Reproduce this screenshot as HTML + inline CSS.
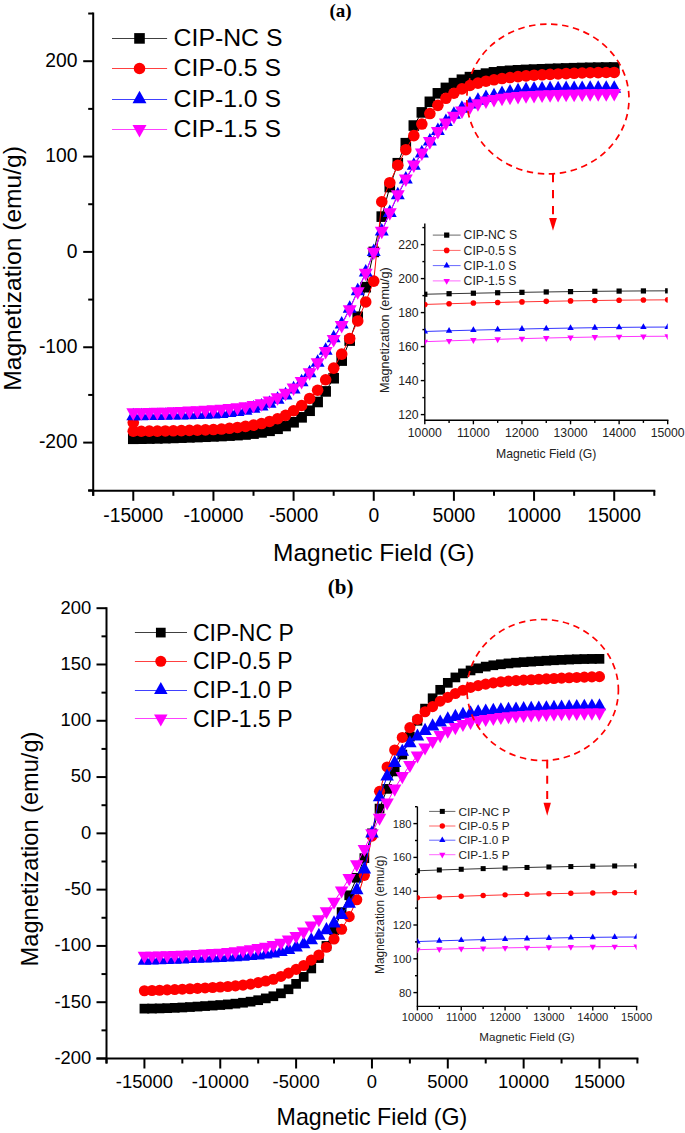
<!DOCTYPE html><html><head><meta charset="utf-8"><style>html,body{margin:0;padding:0;background:#fff;}svg{display:block;}</style></head><body>
<svg width="685" height="1133" viewBox="0 0 685 1133">
<rect width="685" height="1133" fill="#fff"/>
<text x="340.5" y="16.8" font-family='"Liberation Serif", serif' font-weight="bold" font-size="19" text-anchor="middle">(a)</text>
<text x="340.7" y="593.8" font-family='"Liberation Serif", serif' font-weight="bold" font-size="21" text-anchor="middle">(b)</text>
<g stroke="#000" stroke-width="2" fill="none">
<path d="M93.2 12.5 V495.8"/>
<path d="M88.2 490.8 H655.3"/>
<path d="M88.2 13.53 H93.2"/>
<path d="M83.2 61.20 H93.2"/>
<path d="M88.2 108.88 H93.2"/>
<path d="M83.2 156.55 H93.2"/>
<path d="M88.2 204.23 H93.2"/>
<path d="M83.2 251.90 H93.2"/>
<path d="M88.2 299.58 H93.2"/>
<path d="M83.2 347.25 H93.2"/>
<path d="M88.2 394.93 H93.2"/>
<path d="M83.2 442.60 H93.2"/>
<path d="M88.2 490.28 H93.2"/>
<path d="M93.20 490.8 V495.8"/>
<path d="M133.28 490.8 V500.8"/>
<path d="M173.36 490.8 V495.8"/>
<path d="M213.44 490.8 V500.8"/>
<path d="M253.51 490.8 V495.8"/>
<path d="M293.59 490.8 V500.8"/>
<path d="M333.67 490.8 V495.8"/>
<path d="M373.75 490.8 V500.8"/>
<path d="M413.83 490.8 V495.8"/>
<path d="M453.91 490.8 V500.8"/>
<path d="M493.99 490.8 V495.8"/>
<path d="M534.06 490.8 V500.8"/>
<path d="M574.14 490.8 V495.8"/>
<path d="M614.22 490.8 V500.8"/>
<path d="M654.30 490.8 V495.8"/>
</g>
<g font-family='"Liberation Sans", sans-serif' fill="#000">
<text x="77.50" y="67.00" font-size="19.3" text-anchor="end" >200</text>
<text x="77.50" y="162.35" font-size="19.3" text-anchor="end" >100</text>
<text x="77.50" y="257.70" font-size="19.3" text-anchor="end" >0</text>
<text x="77.50" y="353.05" font-size="19.3" text-anchor="end" >-100</text>
<text x="77.50" y="448.40" font-size="19.3" text-anchor="end" >-200</text>
<text x="133.28" y="522.30" font-size="19.3" text-anchor="middle" >-15000</text>
<text x="213.44" y="522.30" font-size="19.3" text-anchor="middle" >-10000</text>
<text x="293.59" y="522.30" font-size="19.3" text-anchor="middle" >-5000</text>
<text x="373.75" y="522.30" font-size="19.3" text-anchor="middle" >0</text>
<text x="453.91" y="522.30" font-size="19.3" text-anchor="middle" >5000</text>
<text x="534.06" y="522.30" font-size="19.3" text-anchor="middle" >10000</text>
<text x="614.22" y="522.30" font-size="19.3" text-anchor="middle" >15000</text>
<text x="373.75" y="560.90" font-size="24.5" text-anchor="middle" >Magnetic Field (G)</text>
<text x="0" y="0" font-size="24.6" text-anchor="middle" transform="translate(21.0 268.4) rotate(-90)">Magnetization (emu/g)</text>
</g>
<polyline points="133.28,438.79 141.29,438.69 149.31,438.56 157.33,438.38 165.34,438.17 173.36,437.93 181.37,437.66 189.39,437.36 197.40,437.06 205.42,436.73 213.44,436.40 221.45,436.04 229.47,435.62 237.48,435.12 245.50,434.50 253.51,433.61 261.53,432.40 269.55,430.81 277.56,428.77 285.58,426.01 293.59,422.29 301.61,417.33 309.62,410.75 317.64,401.98 325.66,391.40 333.67,378.24 341.69,360.60 349.70,340.58 357.72,316.74 365.73,287.18 373.75,251.90 381.77,216.62 389.78,187.06 397.80,163.22 405.81,143.20 413.83,125.56 421.84,112.40 429.86,101.82 437.88,93.33 445.89,87.90 453.91,83.13 461.92,79.70 469.94,77.12 477.95,75.16 485.97,73.60 493.99,72.33 502.00,71.40 510.02,70.80 518.03,70.31 526.05,69.92 534.06,69.59 542.08,69.29 550.10,69.00 558.11,68.72 566.13,68.45 574.14,68.21 582.16,67.99 590.17,67.81 598.19,67.66 606.21,67.55 614.22,67.49" fill="none" stroke="#000" stroke-width="1"/>
<rect x="127.98" y="433.49" width="10.60" height="10.60" fill="#000"/>
<rect x="135.99" y="433.39" width="10.60" height="10.60" fill="#000"/>
<rect x="144.01" y="433.26" width="10.60" height="10.60" fill="#000"/>
<rect x="152.03" y="433.08" width="10.60" height="10.60" fill="#000"/>
<rect x="160.04" y="432.87" width="10.60" height="10.60" fill="#000"/>
<rect x="168.06" y="432.63" width="10.60" height="10.60" fill="#000"/>
<rect x="176.07" y="432.36" width="10.60" height="10.60" fill="#000"/>
<rect x="184.09" y="432.06" width="10.60" height="10.60" fill="#000"/>
<rect x="192.10" y="431.76" width="10.60" height="10.60" fill="#000"/>
<rect x="200.12" y="431.43" width="10.60" height="10.60" fill="#000"/>
<rect x="208.14" y="431.10" width="10.60" height="10.60" fill="#000"/>
<rect x="216.15" y="430.74" width="10.60" height="10.60" fill="#000"/>
<rect x="224.17" y="430.32" width="10.60" height="10.60" fill="#000"/>
<rect x="232.18" y="429.82" width="10.60" height="10.60" fill="#000"/>
<rect x="240.20" y="429.20" width="10.60" height="10.60" fill="#000"/>
<rect x="248.21" y="428.31" width="10.60" height="10.60" fill="#000"/>
<rect x="256.23" y="427.10" width="10.60" height="10.60" fill="#000"/>
<rect x="264.25" y="425.51" width="10.60" height="10.60" fill="#000"/>
<rect x="272.26" y="423.47" width="10.60" height="10.60" fill="#000"/>
<rect x="280.28" y="420.71" width="10.60" height="10.60" fill="#000"/>
<rect x="288.29" y="416.99" width="10.60" height="10.60" fill="#000"/>
<rect x="296.31" y="412.03" width="10.60" height="10.60" fill="#000"/>
<rect x="304.32" y="405.45" width="10.60" height="10.60" fill="#000"/>
<rect x="312.34" y="396.68" width="10.60" height="10.60" fill="#000"/>
<rect x="320.36" y="386.10" width="10.60" height="10.60" fill="#000"/>
<rect x="328.37" y="372.94" width="10.60" height="10.60" fill="#000"/>
<rect x="336.39" y="355.30" width="10.60" height="10.60" fill="#000"/>
<rect x="344.40" y="335.28" width="10.60" height="10.60" fill="#000"/>
<rect x="352.42" y="311.44" width="10.60" height="10.60" fill="#000"/>
<rect x="360.43" y="281.88" width="10.60" height="10.60" fill="#000"/>
<rect x="368.45" y="246.60" width="10.60" height="10.60" fill="#000"/>
<rect x="376.47" y="211.32" width="10.60" height="10.60" fill="#000"/>
<rect x="384.48" y="181.76" width="10.60" height="10.60" fill="#000"/>
<rect x="392.50" y="157.92" width="10.60" height="10.60" fill="#000"/>
<rect x="400.51" y="137.90" width="10.60" height="10.60" fill="#000"/>
<rect x="408.53" y="120.26" width="10.60" height="10.60" fill="#000"/>
<rect x="416.54" y="107.10" width="10.60" height="10.60" fill="#000"/>
<rect x="424.56" y="96.52" width="10.60" height="10.60" fill="#000"/>
<rect x="432.58" y="88.03" width="10.60" height="10.60" fill="#000"/>
<rect x="440.59" y="82.60" width="10.60" height="10.60" fill="#000"/>
<rect x="448.61" y="77.83" width="10.60" height="10.60" fill="#000"/>
<rect x="456.62" y="74.40" width="10.60" height="10.60" fill="#000"/>
<rect x="464.64" y="71.82" width="10.60" height="10.60" fill="#000"/>
<rect x="472.65" y="69.86" width="10.60" height="10.60" fill="#000"/>
<rect x="480.67" y="68.30" width="10.60" height="10.60" fill="#000"/>
<rect x="488.69" y="67.03" width="10.60" height="10.60" fill="#000"/>
<rect x="496.70" y="66.10" width="10.60" height="10.60" fill="#000"/>
<rect x="504.72" y="65.50" width="10.60" height="10.60" fill="#000"/>
<rect x="512.73" y="65.01" width="10.60" height="10.60" fill="#000"/>
<rect x="520.75" y="64.62" width="10.60" height="10.60" fill="#000"/>
<rect x="528.76" y="64.29" width="10.60" height="10.60" fill="#000"/>
<rect x="536.78" y="63.99" width="10.60" height="10.60" fill="#000"/>
<rect x="544.80" y="63.70" width="10.60" height="10.60" fill="#000"/>
<rect x="552.81" y="63.42" width="10.60" height="10.60" fill="#000"/>
<rect x="560.83" y="63.15" width="10.60" height="10.60" fill="#000"/>
<rect x="568.84" y="62.91" width="10.60" height="10.60" fill="#000"/>
<rect x="576.86" y="62.69" width="10.60" height="10.60" fill="#000"/>
<rect x="584.87" y="62.51" width="10.60" height="10.60" fill="#000"/>
<rect x="592.89" y="62.36" width="10.60" height="10.60" fill="#000"/>
<rect x="600.91" y="62.25" width="10.60" height="10.60" fill="#000"/>
<rect x="608.92" y="62.19" width="10.60" height="10.60" fill="#000"/>
<polyline points="133.28,431.25 141.29,431.23 149.31,431.17 157.33,431.08 165.34,430.94 173.36,430.78 181.37,430.58 189.39,430.36 197.40,430.11 205.42,429.83 213.44,429.54 221.45,429.03 229.47,428.30 237.48,427.43 245.50,426.39 253.51,425.15 261.53,423.53 269.55,421.43 277.56,418.76 285.58,415.33 293.59,410.75 301.61,405.51 309.62,398.45 317.64,390.25 325.66,379.76 333.67,368.13 341.69,354.12 349.70,338.57 357.72,320.93 365.73,301.96 373.75,281.08 381.77,201.75 389.78,182.68 397.80,165.23 405.81,149.68 413.83,135.67 421.84,124.04 429.86,113.55 437.88,105.35 445.89,98.29 453.91,93.24 461.92,88.85 469.94,85.51 477.95,83.13 485.97,81.22 493.99,79.79 502.00,78.55 510.02,77.53 518.03,76.65 526.05,75.84 534.06,75.22 542.08,74.78 550.10,74.36 558.11,73.97 566.13,73.61 574.14,73.28 582.16,73.00 590.17,72.77 598.19,72.60 606.21,72.49 614.22,72.45" fill="none" stroke="#ff0000" stroke-width="1"/>
<circle cx="133.28" cy="431.25" r="5.80" fill="#ff0000"/>
<circle cx="141.29" cy="431.23" r="5.80" fill="#ff0000"/>
<circle cx="149.31" cy="431.17" r="5.80" fill="#ff0000"/>
<circle cx="157.33" cy="431.08" r="5.80" fill="#ff0000"/>
<circle cx="165.34" cy="430.94" r="5.80" fill="#ff0000"/>
<circle cx="173.36" cy="430.78" r="5.80" fill="#ff0000"/>
<circle cx="181.37" cy="430.58" r="5.80" fill="#ff0000"/>
<circle cx="189.39" cy="430.36" r="5.80" fill="#ff0000"/>
<circle cx="197.40" cy="430.11" r="5.80" fill="#ff0000"/>
<circle cx="205.42" cy="429.83" r="5.80" fill="#ff0000"/>
<circle cx="213.44" cy="429.54" r="5.80" fill="#ff0000"/>
<circle cx="221.45" cy="429.03" r="5.80" fill="#ff0000"/>
<circle cx="229.47" cy="428.30" r="5.80" fill="#ff0000"/>
<circle cx="237.48" cy="427.43" r="5.80" fill="#ff0000"/>
<circle cx="245.50" cy="426.39" r="5.80" fill="#ff0000"/>
<circle cx="253.51" cy="425.15" r="5.80" fill="#ff0000"/>
<circle cx="261.53" cy="423.53" r="5.80" fill="#ff0000"/>
<circle cx="269.55" cy="421.43" r="5.80" fill="#ff0000"/>
<circle cx="277.56" cy="418.76" r="5.80" fill="#ff0000"/>
<circle cx="285.58" cy="415.33" r="5.80" fill="#ff0000"/>
<circle cx="293.59" cy="410.75" r="5.80" fill="#ff0000"/>
<circle cx="301.61" cy="405.51" r="5.80" fill="#ff0000"/>
<circle cx="309.62" cy="398.45" r="5.80" fill="#ff0000"/>
<circle cx="317.64" cy="390.25" r="5.80" fill="#ff0000"/>
<circle cx="325.66" cy="379.76" r="5.80" fill="#ff0000"/>
<circle cx="333.67" cy="368.13" r="5.80" fill="#ff0000"/>
<circle cx="341.69" cy="354.12" r="5.80" fill="#ff0000"/>
<circle cx="349.70" cy="338.57" r="5.80" fill="#ff0000"/>
<circle cx="357.72" cy="320.93" r="5.80" fill="#ff0000"/>
<circle cx="365.73" cy="301.96" r="5.80" fill="#ff0000"/>
<circle cx="373.75" cy="281.08" r="5.80" fill="#ff0000"/>
<circle cx="381.77" cy="201.75" r="5.80" fill="#ff0000"/>
<circle cx="389.78" cy="182.68" r="5.80" fill="#ff0000"/>
<circle cx="397.80" cy="165.23" r="5.80" fill="#ff0000"/>
<circle cx="405.81" cy="149.68" r="5.80" fill="#ff0000"/>
<circle cx="413.83" cy="135.67" r="5.80" fill="#ff0000"/>
<circle cx="421.84" cy="124.04" r="5.80" fill="#ff0000"/>
<circle cx="429.86" cy="113.55" r="5.80" fill="#ff0000"/>
<circle cx="437.88" cy="105.35" r="5.80" fill="#ff0000"/>
<circle cx="445.89" cy="98.29" r="5.80" fill="#ff0000"/>
<circle cx="453.91" cy="93.24" r="5.80" fill="#ff0000"/>
<circle cx="461.92" cy="88.85" r="5.80" fill="#ff0000"/>
<circle cx="469.94" cy="85.51" r="5.80" fill="#ff0000"/>
<circle cx="477.95" cy="83.13" r="5.80" fill="#ff0000"/>
<circle cx="485.97" cy="81.22" r="5.80" fill="#ff0000"/>
<circle cx="493.99" cy="79.79" r="5.80" fill="#ff0000"/>
<circle cx="502.00" cy="78.55" r="5.80" fill="#ff0000"/>
<circle cx="510.02" cy="77.53" r="5.80" fill="#ff0000"/>
<circle cx="518.03" cy="76.65" r="5.80" fill="#ff0000"/>
<circle cx="526.05" cy="75.84" r="5.80" fill="#ff0000"/>
<circle cx="534.06" cy="75.22" r="5.80" fill="#ff0000"/>
<circle cx="542.08" cy="74.78" r="5.80" fill="#ff0000"/>
<circle cx="550.10" cy="74.36" r="5.80" fill="#ff0000"/>
<circle cx="558.11" cy="73.97" r="5.80" fill="#ff0000"/>
<circle cx="566.13" cy="73.61" r="5.80" fill="#ff0000"/>
<circle cx="574.14" cy="73.28" r="5.80" fill="#ff0000"/>
<circle cx="582.16" cy="73.00" r="5.80" fill="#ff0000"/>
<circle cx="590.17" cy="72.77" r="5.80" fill="#ff0000"/>
<circle cx="598.19" cy="72.60" r="5.80" fill="#ff0000"/>
<circle cx="606.21" cy="72.49" r="5.80" fill="#ff0000"/>
<circle cx="614.22" cy="72.45" r="5.80" fill="#ff0000"/>
<circle cx="133.28" cy="422.58" r="5.80" fill="#ff0000"/>
<polyline points="133.28,416.09 141.29,415.99 149.31,415.87 157.33,415.74 165.34,415.58 173.36,415.41 181.37,415.23 189.39,415.05 197.40,414.86 205.42,414.61 213.44,414.28 221.45,413.73 229.47,412.88 237.48,411.77 245.50,410.47 253.51,408.46 261.53,406.37 269.55,403.51 277.56,399.69 285.58,395.21 293.59,389.20 301.61,382.05 309.62,372.99 317.64,362.51 325.66,350.59 333.67,338.19 341.69,324.37 349.70,308.63 357.72,290.99 365.73,272.40 373.75,251.90 381.77,231.40 389.78,212.81 397.80,195.17 405.81,179.43 413.83,165.61 421.84,153.21 429.86,141.29 437.88,130.81 445.89,121.75 453.91,114.60 461.92,108.59 469.94,104.30 477.95,100.58 485.97,97.91 493.99,96.00 502.00,93.81 510.02,92.35 518.03,91.09 526.05,90.15 534.06,89.61 542.08,89.37 550.10,89.19 558.11,89.06 566.13,88.95 574.14,88.84 582.16,88.74 590.17,88.65 598.19,88.57 606.21,88.51 614.22,88.47" fill="none" stroke="#0000ff" stroke-width="1"/>
<path d="M133.28 407.75L140.24 420.26L126.31 420.26Z" fill="#0000ff"/>
<path d="M141.29 407.65L148.26 420.17L134.33 420.17Z" fill="#0000ff"/>
<path d="M149.31 407.53L156.28 420.05L142.34 420.05Z" fill="#0000ff"/>
<path d="M157.33 407.39L164.29 419.91L150.36 419.91Z" fill="#0000ff"/>
<path d="M165.34 407.24L172.31 419.75L158.38 419.75Z" fill="#0000ff"/>
<path d="M173.36 407.07L180.32 419.58L166.39 419.58Z" fill="#0000ff"/>
<path d="M181.37 406.89L188.34 419.41L174.41 419.41Z" fill="#0000ff"/>
<path d="M189.39 406.71L196.35 419.23L182.42 419.23Z" fill="#0000ff"/>
<path d="M197.40 406.52L204.37 419.03L190.44 419.03Z" fill="#0000ff"/>
<path d="M205.42 406.27L212.39 418.78L198.45 418.78Z" fill="#0000ff"/>
<path d="M213.44 405.94L220.40 418.45L206.47 418.45Z" fill="#0000ff"/>
<path d="M221.45 405.39L228.42 417.90L214.49 417.90Z" fill="#0000ff"/>
<path d="M229.47 404.54L236.43 417.05L222.50 417.05Z" fill="#0000ff"/>
<path d="M237.48 403.43L244.45 415.94L230.52 415.94Z" fill="#0000ff"/>
<path d="M245.50 402.13L252.46 414.64L238.53 414.64Z" fill="#0000ff"/>
<path d="M253.51 400.12L260.48 412.64L246.55 412.64Z" fill="#0000ff"/>
<path d="M261.53 398.03L268.50 410.54L254.56 410.54Z" fill="#0000ff"/>
<path d="M269.55 395.16L276.51 407.68L262.58 407.68Z" fill="#0000ff"/>
<path d="M277.56 391.35L284.53 403.86L270.60 403.86Z" fill="#0000ff"/>
<path d="M285.58 386.87L292.54 399.38L278.61 399.38Z" fill="#0000ff"/>
<path d="M293.59 380.86L300.56 393.38L286.63 393.38Z" fill="#0000ff"/>
<path d="M301.61 373.71L308.57 386.22L294.64 386.22Z" fill="#0000ff"/>
<path d="M309.62 364.65L316.59 377.17L302.66 377.17Z" fill="#0000ff"/>
<path d="M317.64 354.16L324.61 366.68L310.67 366.68Z" fill="#0000ff"/>
<path d="M325.66 342.25L332.62 354.76L318.69 354.76Z" fill="#0000ff"/>
<path d="M333.67 329.85L340.64 342.36L326.71 342.36Z" fill="#0000ff"/>
<path d="M341.69 316.02L348.65 328.54L334.72 328.54Z" fill="#0000ff"/>
<path d="M349.70 300.29L356.67 312.80L342.74 312.80Z" fill="#0000ff"/>
<path d="M357.72 282.65L364.68 295.16L350.75 295.16Z" fill="#0000ff"/>
<path d="M365.73 264.06L372.70 276.57L358.77 276.57Z" fill="#0000ff"/>
<path d="M373.75 243.56L380.72 256.07L366.78 256.07Z" fill="#0000ff"/>
<path d="M381.77 223.06L388.73 235.57L374.80 235.57Z" fill="#0000ff"/>
<path d="M389.78 204.46L396.75 216.98L382.82 216.98Z" fill="#0000ff"/>
<path d="M397.80 186.82L404.76 199.34L390.83 199.34Z" fill="#0000ff"/>
<path d="M405.81 171.09L412.78 183.61L398.85 183.61Z" fill="#0000ff"/>
<path d="M413.83 157.27L420.79 169.78L406.86 169.78Z" fill="#0000ff"/>
<path d="M421.84 144.87L428.81 157.38L414.88 157.38Z" fill="#0000ff"/>
<path d="M429.86 132.95L436.83 145.47L422.89 145.47Z" fill="#0000ff"/>
<path d="M437.88 122.46L444.84 134.98L430.91 134.98Z" fill="#0000ff"/>
<path d="M445.89 113.41L452.86 125.92L438.93 125.92Z" fill="#0000ff"/>
<path d="M453.91 106.25L460.87 118.77L446.94 118.77Z" fill="#0000ff"/>
<path d="M461.92 100.25L468.89 112.76L454.96 112.76Z" fill="#0000ff"/>
<path d="M469.94 95.96L476.90 108.47L462.97 108.47Z" fill="#0000ff"/>
<path d="M477.95 92.24L484.92 104.75L470.99 104.75Z" fill="#0000ff"/>
<path d="M485.97 89.57L492.94 102.08L479.00 102.08Z" fill="#0000ff"/>
<path d="M493.99 87.66L500.95 100.17L487.02 100.17Z" fill="#0000ff"/>
<path d="M502.00 85.47L508.97 97.98L495.04 97.98Z" fill="#0000ff"/>
<path d="M510.02 84.01L516.98 96.52L503.05 96.52Z" fill="#0000ff"/>
<path d="M518.03 82.75L525.00 95.26L511.07 95.26Z" fill="#0000ff"/>
<path d="M526.05 81.80L533.01 94.32L519.08 94.32Z" fill="#0000ff"/>
<path d="M534.06 81.27L541.03 93.79L527.10 93.79Z" fill="#0000ff"/>
<path d="M542.08 81.03L549.05 93.54L535.11 93.54Z" fill="#0000ff"/>
<path d="M550.10 80.85L557.06 93.36L543.13 93.36Z" fill="#0000ff"/>
<path d="M558.11 80.72L565.08 93.23L551.15 93.23Z" fill="#0000ff"/>
<path d="M566.13 80.60L573.09 93.12L559.16 93.12Z" fill="#0000ff"/>
<path d="M574.14 80.50L581.11 93.01L567.18 93.01Z" fill="#0000ff"/>
<path d="M582.16 80.40L589.12 92.91L575.19 92.91Z" fill="#0000ff"/>
<path d="M590.17 80.30L597.14 92.82L583.21 92.82Z" fill="#0000ff"/>
<path d="M598.19 80.23L605.16 92.74L591.22 92.74Z" fill="#0000ff"/>
<path d="M606.21 80.17L613.17 92.68L599.24 92.68Z" fill="#0000ff"/>
<path d="M614.22 80.13L621.19 92.64L607.26 92.64Z" fill="#0000ff"/>
<polyline points="133.28,412.37 141.29,412.33 149.31,412.22 157.33,412.04 165.34,411.80 173.36,411.51 181.37,411.17 189.39,410.79 197.40,410.39 205.42,409.96 213.44,409.51 221.45,408.97 229.47,408.25 237.48,407.38 245.50,406.37 253.51,405.07 261.53,403.32 269.55,400.65 277.56,397.31 285.58,393.02 293.59,387.77 301.61,381.10 309.62,372.52 317.64,362.51 325.66,351.06 333.67,339.15 341.69,325.13 349.70,309.40 357.72,291.47 365.73,272.88 373.75,251.90 381.77,230.92 389.78,212.33 397.80,194.40 405.81,178.67 413.83,164.65 421.84,152.74 429.86,141.29 437.88,131.28 445.89,122.70 453.91,116.03 461.92,110.78 469.94,106.68 477.95,103.34 485.97,100.67 493.99,99.06 502.00,97.91 510.02,96.99 518.03,96.18 526.05,95.53 534.06,95.05 542.08,94.70 550.10,94.42 558.11,94.19 566.13,94.00 574.14,93.83 582.16,93.67 590.17,93.52 598.19,93.40 606.21,93.30 614.22,93.24" fill="none" stroke="#ff00ff" stroke-width="1"/>
<path d="M133.28 420.72L140.24 408.20L126.31 408.20Z" fill="#ff00ff"/>
<path d="M141.29 420.68L148.26 408.16L134.33 408.16Z" fill="#ff00ff"/>
<path d="M149.31 420.56L156.28 408.05L142.34 408.05Z" fill="#ff00ff"/>
<path d="M157.33 420.38L164.29 407.87L150.36 407.87Z" fill="#ff00ff"/>
<path d="M165.34 420.14L172.31 407.63L158.38 407.63Z" fill="#ff00ff"/>
<path d="M173.36 419.85L180.32 407.33L166.39 407.33Z" fill="#ff00ff"/>
<path d="M181.37 419.51L188.34 407.00L174.41 407.00Z" fill="#ff00ff"/>
<path d="M189.39 419.13L196.35 406.62L182.42 406.62Z" fill="#ff00ff"/>
<path d="M197.40 418.73L204.37 406.22L190.44 406.22Z" fill="#ff00ff"/>
<path d="M205.42 418.30L212.39 405.79L198.45 405.79Z" fill="#ff00ff"/>
<path d="M213.44 417.86L220.40 405.34L206.47 405.34Z" fill="#ff00ff"/>
<path d="M221.45 417.31L228.42 404.80L214.49 404.80Z" fill="#ff00ff"/>
<path d="M229.47 416.60L236.43 404.08L222.50 404.08Z" fill="#ff00ff"/>
<path d="M237.48 415.72L244.45 403.21L230.52 403.21Z" fill="#ff00ff"/>
<path d="M245.50 414.71L252.46 402.20L238.53 402.20Z" fill="#ff00ff"/>
<path d="M253.51 413.41L260.48 400.90L246.55 400.90Z" fill="#ff00ff"/>
<path d="M261.53 411.66L268.50 399.14L254.56 399.14Z" fill="#ff00ff"/>
<path d="M269.55 408.99L276.51 396.48L262.58 396.48Z" fill="#ff00ff"/>
<path d="M277.56 405.65L284.53 393.14L270.60 393.14Z" fill="#ff00ff"/>
<path d="M285.58 401.36L292.54 388.85L278.61 388.85Z" fill="#ff00ff"/>
<path d="M293.59 396.12L300.56 383.60L286.63 383.60Z" fill="#ff00ff"/>
<path d="M301.61 389.44L308.57 376.93L294.64 376.93Z" fill="#ff00ff"/>
<path d="M309.62 380.86L316.59 368.35L302.66 368.35Z" fill="#ff00ff"/>
<path d="M317.64 370.85L324.61 358.34L310.67 358.34Z" fill="#ff00ff"/>
<path d="M325.66 359.41L332.62 346.89L318.69 346.89Z" fill="#ff00ff"/>
<path d="M333.67 347.49L340.64 334.97L326.71 334.97Z" fill="#ff00ff"/>
<path d="M341.69 333.47L348.65 320.96L334.72 320.96Z" fill="#ff00ff"/>
<path d="M349.70 317.74L356.67 305.23L342.74 305.23Z" fill="#ff00ff"/>
<path d="M357.72 299.81L364.68 287.30L350.75 287.30Z" fill="#ff00ff"/>
<path d="M365.73 281.22L372.70 268.71L358.77 268.71Z" fill="#ff00ff"/>
<path d="M373.75 260.24L380.72 247.73L366.78 247.73Z" fill="#ff00ff"/>
<path d="M381.77 239.27L388.73 226.75L374.80 226.75Z" fill="#ff00ff"/>
<path d="M389.78 220.67L396.75 208.16L382.82 208.16Z" fill="#ff00ff"/>
<path d="M397.80 202.75L404.76 190.23L390.83 190.23Z" fill="#ff00ff"/>
<path d="M405.81 187.01L412.78 174.50L398.85 174.50Z" fill="#ff00ff"/>
<path d="M413.83 173.00L420.79 160.48L406.86 160.48Z" fill="#ff00ff"/>
<path d="M421.84 161.08L428.81 148.56L414.88 148.56Z" fill="#ff00ff"/>
<path d="M429.86 149.64L436.83 137.12L422.89 137.12Z" fill="#ff00ff"/>
<path d="M437.88 139.62L444.84 127.11L430.91 127.11Z" fill="#ff00ff"/>
<path d="M445.89 131.04L452.86 118.53L438.93 118.53Z" fill="#ff00ff"/>
<path d="M453.91 124.37L460.87 111.86L446.94 111.86Z" fill="#ff00ff"/>
<path d="M461.92 119.12L468.89 106.61L454.96 106.61Z" fill="#ff00ff"/>
<path d="M469.94 115.02L476.90 102.51L462.97 102.51Z" fill="#ff00ff"/>
<path d="M477.95 111.69L484.92 99.17L470.99 99.17Z" fill="#ff00ff"/>
<path d="M485.97 109.02L492.94 96.50L479.00 96.50Z" fill="#ff00ff"/>
<path d="M493.99 107.41L500.95 94.89L487.02 94.89Z" fill="#ff00ff"/>
<path d="M502.00 106.25L508.97 93.74L495.04 93.74Z" fill="#ff00ff"/>
<path d="M510.02 105.33L516.98 92.81L503.05 92.81Z" fill="#ff00ff"/>
<path d="M518.03 104.52L525.00 92.01L511.07 92.01Z" fill="#ff00ff"/>
<path d="M526.05 103.87L533.01 91.36L519.08 91.36Z" fill="#ff00ff"/>
<path d="M534.06 103.39L541.03 90.88L527.10 90.88Z" fill="#ff00ff"/>
<path d="M542.08 103.04L549.05 90.53L535.11 90.53Z" fill="#ff00ff"/>
<path d="M550.10 102.76L557.06 90.25L543.13 90.25Z" fill="#ff00ff"/>
<path d="M558.11 102.53L565.08 90.02L551.15 90.02Z" fill="#ff00ff"/>
<path d="M566.13 102.34L573.09 89.83L559.16 89.83Z" fill="#ff00ff"/>
<path d="M574.14 102.17L581.11 89.66L567.18 89.66Z" fill="#ff00ff"/>
<path d="M582.16 102.01L589.12 89.50L575.19 89.50Z" fill="#ff00ff"/>
<path d="M590.17 101.86L597.14 89.35L583.21 89.35Z" fill="#ff00ff"/>
<path d="M598.19 101.74L605.16 89.23L591.22 89.23Z" fill="#ff00ff"/>
<path d="M606.21 101.64L613.17 89.13L599.24 89.13Z" fill="#ff00ff"/>
<path d="M614.22 101.58L621.19 89.07L607.26 89.07Z" fill="#ff00ff"/>
<path d="M112 38.5 H167.1" stroke="#000" stroke-width="1" stroke-opacity="0.75" fill="none"/>
<rect x="134.20" y="33.10" width="10.60" height="10.60" fill="#000"/>
<text x="0" y="0" transform="translate(173.6 46.30) scale(1 1.0)" font-family='"Liberation Sans", sans-serif' font-size="24.8">CIP-NC S</text>
<path d="M112 68.5 H167.1" stroke="#ff0000" stroke-width="1" stroke-opacity="0.75" fill="none"/>
<circle cx="139.50" cy="68.50" r="5.80" fill="#ff0000"/>
<text x="0" y="0" transform="translate(173.6 76.40) scale(1 1.0)" font-family='"Liberation Sans", sans-serif' font-size="24.8">CIP-0.5 S</text>
<path d="M112 99.5 H167.1" stroke="#0000ff" stroke-width="1" stroke-opacity="0.75" fill="none"/>
<path d="M139.50 90.66L146.47 103.17L132.53 103.17Z" fill="#0000ff"/>
<text x="0" y="0" transform="translate(173.6 106.90) scale(1 1.0)" font-family='"Liberation Sans", sans-serif' font-size="24.8">CIP-1.0 S</text>
<path d="M112 129.5 H167.1" stroke="#ff00ff" stroke-width="1" stroke-opacity="0.75" fill="none"/>
<path d="M139.50 137.44L146.47 124.93L132.53 124.93Z" fill="#ff00ff"/>
<text x="0" y="0" transform="translate(173.6 137.00) scale(1 1.0)" font-family='"Liberation Sans", sans-serif' font-size="24.8">CIP-1.5 S</text>
<g stroke="#000" stroke-width="1.4" fill="none">
<path d="M424.8 223.4 V420.3"/>
<path d="M424.1 420.3 H668.4000000000001"/>
<path d="M420.8 414.60 H424.8"/>
<path d="M422.40000000000003 397.60 H424.8"/>
<path d="M420.8 380.60 H424.8"/>
<path d="M422.40000000000003 363.60 H424.8"/>
<path d="M420.8 346.60 H424.8"/>
<path d="M422.40000000000003 329.60 H424.8"/>
<path d="M420.8 312.60 H424.8"/>
<path d="M422.40000000000003 295.60 H424.8"/>
<path d="M420.8 278.60 H424.8"/>
<path d="M422.40000000000003 261.60 H424.8"/>
<path d="M420.8 244.60 H424.8"/>
<path d="M422.40000000000003 227.60 H424.8"/>
<path d="M424.80 420.3 V424.3"/>
<path d="M449.09 420.3 V422.90000000000003"/>
<path d="M473.38 420.3 V424.3"/>
<path d="M497.67 420.3 V422.90000000000003"/>
<path d="M521.96 420.3 V424.3"/>
<path d="M546.25 420.3 V422.90000000000003"/>
<path d="M570.54 420.3 V424.3"/>
<path d="M594.83 420.3 V422.90000000000003"/>
<path d="M619.12 420.3 V424.3"/>
<path d="M643.41 420.3 V422.90000000000003"/>
<path d="M667.70 420.3 V424.3"/>
</g>
<g font-family='"Liberation Sans", sans-serif' fill="#222">
<text x="418.60" y="418.80" font-size="12.2" text-anchor="end" >120</text>
<text x="418.60" y="384.80" font-size="12.2" text-anchor="end" >140</text>
<text x="418.60" y="350.80" font-size="12.2" text-anchor="end" >160</text>
<text x="418.60" y="316.80" font-size="12.2" text-anchor="end" >180</text>
<text x="418.60" y="282.80" font-size="12.2" text-anchor="end" >200</text>
<text x="418.60" y="248.80" font-size="12.2" text-anchor="end" >220</text>
<text x="424.80" y="436.80" font-size="12.2" text-anchor="middle" >10000</text>
<text x="473.38" y="436.80" font-size="12.2" text-anchor="middle" >11000</text>
<text x="521.96" y="436.80" font-size="12.2" text-anchor="middle" >12000</text>
<text x="570.54" y="436.80" font-size="12.2" text-anchor="middle" >13000</text>
<text x="619.12" y="436.80" font-size="12.2" text-anchor="middle" >14000</text>
<text x="667.70" y="436.80" font-size="12.2" text-anchor="middle" >15000</text>
<text x="546.20" y="457.80" font-size="12.2" text-anchor="middle" >Magnetic Field (G)</text>
<text x="0" y="0" font-size="12.65" text-anchor="middle" transform="translate(389.3 330.2) rotate(-90)">Magnetization (emu/g)</text>
</g>
<clipPath id="ca"><rect x="424.8" y="223.4" width="242.90000000000003" height="196.9"/></clipPath>
<g clip-path="url(#ca)">
<polyline points="424.80,294.24 449.09,293.71 473.38,293.22 497.67,292.76 521.96,292.34 546.25,291.96 570.54,291.62 594.83,291.34 619.12,291.10 643.41,290.93 667.70,290.84" fill="none" stroke="#000" stroke-width="0.8"/>
<rect x="422.20" y="291.64" width="5.20" height="5.20" fill="#000"/>
<rect x="446.49" y="291.11" width="5.20" height="5.20" fill="#000"/>
<rect x="470.78" y="290.62" width="5.20" height="5.20" fill="#000"/>
<rect x="495.07" y="290.16" width="5.20" height="5.20" fill="#000"/>
<rect x="519.36" y="289.74" width="5.20" height="5.20" fill="#000"/>
<rect x="543.65" y="289.36" width="5.20" height="5.20" fill="#000"/>
<rect x="567.94" y="289.02" width="5.20" height="5.20" fill="#000"/>
<rect x="592.23" y="288.74" width="5.20" height="5.20" fill="#000"/>
<rect x="616.52" y="288.50" width="5.20" height="5.20" fill="#000"/>
<rect x="640.81" y="288.33" width="5.20" height="5.20" fill="#000"/>
<rect x="665.10" y="288.24" width="5.20" height="5.20" fill="#000"/>
<polyline points="424.80,304.44 449.09,303.73 473.38,303.06 497.67,302.44 521.96,301.88 546.25,301.36 570.54,300.91 594.83,300.52 619.12,300.20 643.41,299.97 667.70,299.85" fill="none" stroke="#ff0000" stroke-width="0.8"/>
<circle cx="424.80" cy="304.44" r="2.80" fill="#ff0000"/>
<circle cx="449.09" cy="303.73" r="2.80" fill="#ff0000"/>
<circle cx="473.38" cy="303.06" r="2.80" fill="#ff0000"/>
<circle cx="497.67" cy="302.44" r="2.80" fill="#ff0000"/>
<circle cx="521.96" cy="301.88" r="2.80" fill="#ff0000"/>
<circle cx="546.25" cy="301.36" r="2.80" fill="#ff0000"/>
<circle cx="570.54" cy="300.91" r="2.80" fill="#ff0000"/>
<circle cx="594.83" cy="300.52" r="2.80" fill="#ff0000"/>
<circle cx="619.12" cy="300.20" r="2.80" fill="#ff0000"/>
<circle cx="643.41" cy="299.97" r="2.80" fill="#ff0000"/>
<circle cx="667.70" cy="299.85" r="2.80" fill="#ff0000"/>
<polyline points="424.80,331.47 449.09,330.78 473.38,330.14 497.67,329.55 521.96,329.00 546.25,328.51 570.54,328.07 594.83,327.69 619.12,327.39 643.41,327.16 667.70,327.05" fill="none" stroke="#0000ff" stroke-width="0.8"/>
<path d="M424.80 327.59L428.04 333.41L421.56 333.41Z" fill="#0000ff"/>
<path d="M449.09 326.90L452.33 332.72L445.85 332.72Z" fill="#0000ff"/>
<path d="M473.38 326.26L476.62 332.08L470.14 332.08Z" fill="#0000ff"/>
<path d="M497.67 325.67L500.91 331.49L494.43 331.49Z" fill="#0000ff"/>
<path d="M521.96 325.12L525.20 330.94L518.72 330.94Z" fill="#0000ff"/>
<path d="M546.25 324.63L549.49 330.45L543.01 330.45Z" fill="#0000ff"/>
<path d="M570.54 324.19L573.78 330.01L567.30 330.01Z" fill="#0000ff"/>
<path d="M594.83 323.81L598.07 329.63L591.59 329.63Z" fill="#0000ff"/>
<path d="M619.12 323.51L622.36 329.33L615.88 329.33Z" fill="#0000ff"/>
<path d="M643.41 323.28L646.65 329.10L640.17 329.10Z" fill="#0000ff"/>
<path d="M667.70 323.17L670.94 328.99L664.46 328.99Z" fill="#0000ff"/>
<polyline points="424.80,341.67 449.09,340.83 473.38,340.04 497.67,339.30 521.96,338.63 546.25,338.02 570.54,337.49 594.83,337.02 619.12,336.64 643.41,336.37 667.70,336.23" fill="none" stroke="#ff00ff" stroke-width="0.8"/>
<path d="M424.80 345.55L428.04 339.73L421.56 339.73Z" fill="#ff00ff"/>
<path d="M449.09 344.71L452.33 338.89L445.85 338.89Z" fill="#ff00ff"/>
<path d="M473.38 343.92L476.62 338.10L470.14 338.10Z" fill="#ff00ff"/>
<path d="M497.67 343.18L500.91 337.36L494.43 337.36Z" fill="#ff00ff"/>
<path d="M521.96 342.51L525.20 336.69L518.72 336.69Z" fill="#ff00ff"/>
<path d="M546.25 341.90L549.49 336.08L543.01 336.08Z" fill="#ff00ff"/>
<path d="M570.54 341.37L573.78 335.55L567.30 335.55Z" fill="#ff00ff"/>
<path d="M594.83 340.90L598.07 335.08L591.59 335.08Z" fill="#ff00ff"/>
<path d="M619.12 340.52L622.36 334.70L615.88 334.70Z" fill="#ff00ff"/>
<path d="M643.41 340.25L646.65 334.43L640.17 334.43Z" fill="#ff00ff"/>
<path d="M667.70 340.11L670.94 334.29L664.46 334.29Z" fill="#ff00ff"/>
</g>
<path d="M432.8 235.1 H460.6" stroke="#000" stroke-width="0.8" stroke-opacity="0.75" fill="none"/>
<rect x="444.10" y="232.50" width="5.20" height="5.20" fill="#000"/>
<text x="463.6" y="239.40" font-family='"Liberation Sans", sans-serif' font-size="12.2" fill="#222">CIP-NC S</text>
<path d="M432.8 250.4 H460.6" stroke="#ff0000" stroke-width="0.8" stroke-opacity="0.75" fill="none"/>
<circle cx="446.70" cy="250.40" r="2.80" fill="#ff0000"/>
<text x="463.6" y="254.70" font-family='"Liberation Sans", sans-serif' font-size="12.2" fill="#222">CIP-0.5 S</text>
<path d="M432.8 265.6 H460.6" stroke="#0000ff" stroke-width="0.8" stroke-opacity="0.75" fill="none"/>
<path d="M446.70 261.72L449.94 267.54L443.46 267.54Z" fill="#0000ff"/>
<text x="463.6" y="269.90" font-family='"Liberation Sans", sans-serif' font-size="12.2" fill="#222">CIP-1.0 S</text>
<path d="M432.8 280.9 H460.6" stroke="#ff00ff" stroke-width="0.8" stroke-opacity="0.75" fill="none"/>
<path d="M446.70 284.78L449.94 278.96L443.46 278.96Z" fill="#ff00ff"/>
<text x="463.6" y="285.20" font-family='"Liberation Sans", sans-serif' font-size="12.2" fill="#222">CIP-1.5 S</text>
<g stroke="#000" stroke-width="2" fill="none">
<path d="M106.5 607.2 V1063.5"/>
<path d="M96.5 1058.5 H638.4"/>
<path d="M96.5 608.20 H106.5"/>
<path d="M101.5 636.34 H106.5"/>
<path d="M96.5 664.49 H106.5"/>
<path d="M101.5 692.63 H106.5"/>
<path d="M96.5 720.78 H106.5"/>
<path d="M101.5 748.92 H106.5"/>
<path d="M96.5 777.06 H106.5"/>
<path d="M101.5 805.21 H106.5"/>
<path d="M96.5 833.35 H106.5"/>
<path d="M101.5 861.49 H106.5"/>
<path d="M96.5 889.64 H106.5"/>
<path d="M101.5 917.78 H106.5"/>
<path d="M96.5 945.93 H106.5"/>
<path d="M101.5 974.07 H106.5"/>
<path d="M96.5 1002.21 H106.5"/>
<path d="M101.5 1030.36 H106.5"/>
<path d="M96.5 1058.50 H106.5"/>
<path d="M106.50 1058.5 V1063.5"/>
<path d="M144.42 1058.5 V1068.5"/>
<path d="M182.34 1058.5 V1063.5"/>
<path d="M220.26 1058.5 V1068.5"/>
<path d="M258.19 1058.5 V1063.5"/>
<path d="M296.11 1058.5 V1068.5"/>
<path d="M334.03 1058.5 V1063.5"/>
<path d="M371.95 1058.5 V1068.5"/>
<path d="M409.87 1058.5 V1063.5"/>
<path d="M447.79 1058.5 V1068.5"/>
<path d="M485.71 1058.5 V1063.5"/>
<path d="M523.64 1058.5 V1068.5"/>
<path d="M561.56 1058.5 V1063.5"/>
<path d="M599.48 1058.5 V1068.5"/>
<path d="M637.40 1058.5 V1063.5"/>
</g>
<g font-family='"Liberation Sans", sans-serif' fill="#000">
<text x="91.20" y="613.50" font-size="18.4" text-anchor="end" >200</text>
<text x="91.20" y="669.79" font-size="18.4" text-anchor="end" >150</text>
<text x="91.20" y="726.08" font-size="18.4" text-anchor="end" >100</text>
<text x="91.20" y="782.36" font-size="18.4" text-anchor="end" >50</text>
<text x="91.20" y="838.65" font-size="18.4" text-anchor="end" >0</text>
<text x="91.20" y="894.94" font-size="18.4" text-anchor="end" >-50</text>
<text x="91.20" y="951.23" font-size="18.4" text-anchor="end" >-100</text>
<text x="91.20" y="1007.51" font-size="18.4" text-anchor="end" >-150</text>
<text x="91.20" y="1063.80" font-size="18.4" text-anchor="end" >-200</text>
<text x="144.42" y="1088.20" font-size="18.4" text-anchor="middle" >-15000</text>
<text x="220.26" y="1088.20" font-size="18.4" text-anchor="middle" >-10000</text>
<text x="296.11" y="1088.20" font-size="18.4" text-anchor="middle" >-5000</text>
<text x="371.95" y="1088.20" font-size="18.4" text-anchor="middle" >0</text>
<text x="447.79" y="1088.20" font-size="18.4" text-anchor="middle" >5000</text>
<text x="523.64" y="1088.20" font-size="18.4" text-anchor="middle" >10000</text>
<text x="599.48" y="1088.20" font-size="18.4" text-anchor="middle" >15000</text>
<text x="371.95" y="1125.00" font-size="23.2" text-anchor="middle" >Magnetic Field (G)</text>
<text x="0" y="0" font-size="23.6" text-anchor="middle" transform="translate(38.1 849.0) rotate(-90)">Magnetization (emu/g)</text>
</g>
<polyline points="144.42,1008.63 152.01,1008.56 159.59,1008.41 167.17,1008.17 174.76,1007.85 182.34,1007.48 189.93,1007.05 197.51,1006.58 205.10,1006.08 212.68,1005.56 220.26,1005.03 227.85,1004.41 235.43,1003.65 243.02,1002.73 250.60,1001.65 258.19,1000.20 265.77,998.38 273.35,996.25 280.94,993.32 288.52,989.27 296.11,983.86 303.69,976.88 311.28,968.44 318.86,958.08 326.44,945.93 334.03,930.16 341.61,912.15 349.20,895.27 356.78,877.82 364.37,858.12 371.95,833.35 379.53,808.58 387.12,788.88 394.70,771.43 402.29,754.55 409.87,736.54 417.46,720.78 425.04,708.62 432.62,698.26 440.21,689.82 447.79,682.84 455.38,677.43 462.96,673.38 470.55,670.45 478.13,668.32 485.71,666.61 493.30,665.28 500.88,664.27 508.47,663.41 516.05,662.69 523.64,662.12 531.22,661.63 538.80,661.16 546.39,660.70 553.97,660.27 561.56,659.88 569.14,659.54 576.73,659.25 584.31,659.04 591.89,658.91 599.48,658.86" fill="none" stroke="#000" stroke-width="1"/>
<rect x="139.57" y="1003.78" width="9.70" height="9.70" fill="#000"/>
<rect x="147.16" y="1003.71" width="9.70" height="9.70" fill="#000"/>
<rect x="154.74" y="1003.56" width="9.70" height="9.70" fill="#000"/>
<rect x="162.32" y="1003.32" width="9.70" height="9.70" fill="#000"/>
<rect x="169.91" y="1003.00" width="9.70" height="9.70" fill="#000"/>
<rect x="177.49" y="1002.63" width="9.70" height="9.70" fill="#000"/>
<rect x="185.08" y="1002.20" width="9.70" height="9.70" fill="#000"/>
<rect x="192.66" y="1001.73" width="9.70" height="9.70" fill="#000"/>
<rect x="200.25" y="1001.23" width="9.70" height="9.70" fill="#000"/>
<rect x="207.83" y="1000.71" width="9.70" height="9.70" fill="#000"/>
<rect x="215.41" y="1000.18" width="9.70" height="9.70" fill="#000"/>
<rect x="223.00" y="999.56" width="9.70" height="9.70" fill="#000"/>
<rect x="230.58" y="998.80" width="9.70" height="9.70" fill="#000"/>
<rect x="238.17" y="997.88" width="9.70" height="9.70" fill="#000"/>
<rect x="245.75" y="996.80" width="9.70" height="9.70" fill="#000"/>
<rect x="253.34" y="995.35" width="9.70" height="9.70" fill="#000"/>
<rect x="260.92" y="993.53" width="9.70" height="9.70" fill="#000"/>
<rect x="268.50" y="991.40" width="9.70" height="9.70" fill="#000"/>
<rect x="276.09" y="988.47" width="9.70" height="9.70" fill="#000"/>
<rect x="283.67" y="984.42" width="9.70" height="9.70" fill="#000"/>
<rect x="291.26" y="979.01" width="9.70" height="9.70" fill="#000"/>
<rect x="298.84" y="972.03" width="9.70" height="9.70" fill="#000"/>
<rect x="306.43" y="963.59" width="9.70" height="9.70" fill="#000"/>
<rect x="314.01" y="953.23" width="9.70" height="9.70" fill="#000"/>
<rect x="321.59" y="941.08" width="9.70" height="9.70" fill="#000"/>
<rect x="329.18" y="925.31" width="9.70" height="9.70" fill="#000"/>
<rect x="336.76" y="907.30" width="9.70" height="9.70" fill="#000"/>
<rect x="344.35" y="890.42" width="9.70" height="9.70" fill="#000"/>
<rect x="351.93" y="872.97" width="9.70" height="9.70" fill="#000"/>
<rect x="359.52" y="853.27" width="9.70" height="9.70" fill="#000"/>
<rect x="367.10" y="828.50" width="9.70" height="9.70" fill="#000"/>
<rect x="374.68" y="803.73" width="9.70" height="9.70" fill="#000"/>
<rect x="382.27" y="784.03" width="9.70" height="9.70" fill="#000"/>
<rect x="389.85" y="766.58" width="9.70" height="9.70" fill="#000"/>
<rect x="397.44" y="749.70" width="9.70" height="9.70" fill="#000"/>
<rect x="405.02" y="731.69" width="9.70" height="9.70" fill="#000"/>
<rect x="412.61" y="715.93" width="9.70" height="9.70" fill="#000"/>
<rect x="420.19" y="703.77" width="9.70" height="9.70" fill="#000"/>
<rect x="427.77" y="693.41" width="9.70" height="9.70" fill="#000"/>
<rect x="435.36" y="684.97" width="9.70" height="9.70" fill="#000"/>
<rect x="442.94" y="677.99" width="9.70" height="9.70" fill="#000"/>
<rect x="450.53" y="672.58" width="9.70" height="9.70" fill="#000"/>
<rect x="458.11" y="668.53" width="9.70" height="9.70" fill="#000"/>
<rect x="465.70" y="665.60" width="9.70" height="9.70" fill="#000"/>
<rect x="473.28" y="663.47" width="9.70" height="9.70" fill="#000"/>
<rect x="480.86" y="661.76" width="9.70" height="9.70" fill="#000"/>
<rect x="488.45" y="660.43" width="9.70" height="9.70" fill="#000"/>
<rect x="496.03" y="659.42" width="9.70" height="9.70" fill="#000"/>
<rect x="503.62" y="658.56" width="9.70" height="9.70" fill="#000"/>
<rect x="511.20" y="657.84" width="9.70" height="9.70" fill="#000"/>
<rect x="518.79" y="657.27" width="9.70" height="9.70" fill="#000"/>
<rect x="526.37" y="656.78" width="9.70" height="9.70" fill="#000"/>
<rect x="533.95" y="656.31" width="9.70" height="9.70" fill="#000"/>
<rect x="541.54" y="655.85" width="9.70" height="9.70" fill="#000"/>
<rect x="549.12" y="655.42" width="9.70" height="9.70" fill="#000"/>
<rect x="556.71" y="655.03" width="9.70" height="9.70" fill="#000"/>
<rect x="564.29" y="654.69" width="9.70" height="9.70" fill="#000"/>
<rect x="571.88" y="654.40" width="9.70" height="9.70" fill="#000"/>
<rect x="579.46" y="654.19" width="9.70" height="9.70" fill="#000"/>
<rect x="587.04" y="654.06" width="9.70" height="9.70" fill="#000"/>
<rect x="594.63" y="654.01" width="9.70" height="9.70" fill="#000"/>
<polyline points="144.42,990.73 152.01,990.50 159.59,990.22 167.17,989.91 174.76,989.57 182.34,989.19 189.93,988.79 197.51,988.37 205.10,987.93 212.68,987.48 220.26,987.01 227.85,986.51 235.43,985.89 243.02,985.10 250.60,984.09 258.19,982.62 265.77,981.05 273.35,979.25 280.94,976.43 288.52,973.17 296.11,969.34 303.69,965.51 311.28,960.11 318.86,954.93 326.44,947.28 334.03,939.06 341.61,929.26 349.20,916.66 356.78,899.77 364.37,875.34 371.95,836.16 379.53,791.36 387.12,766.93 394.70,750.04 402.29,737.44 409.87,727.64 417.46,719.42 425.04,711.77 432.62,706.59 440.21,701.19 447.79,697.36 455.38,693.53 462.96,690.27 470.55,687.45 478.13,685.65 485.71,684.08 493.30,682.84 500.88,681.89 508.47,681.15 516.05,680.59 523.64,680.14 531.22,679.71 538.80,679.29 546.39,678.89 553.97,678.50 561.56,678.12 569.14,677.77 576.73,677.45 584.31,677.15 591.89,676.88 599.48,676.65" fill="none" stroke="#ff0000" stroke-width="1"/>
<circle cx="144.42" cy="990.73" r="5.55" fill="#ff0000"/>
<circle cx="152.01" cy="990.50" r="5.55" fill="#ff0000"/>
<circle cx="159.59" cy="990.22" r="5.55" fill="#ff0000"/>
<circle cx="167.17" cy="989.91" r="5.55" fill="#ff0000"/>
<circle cx="174.76" cy="989.57" r="5.55" fill="#ff0000"/>
<circle cx="182.34" cy="989.19" r="5.55" fill="#ff0000"/>
<circle cx="189.93" cy="988.79" r="5.55" fill="#ff0000"/>
<circle cx="197.51" cy="988.37" r="5.55" fill="#ff0000"/>
<circle cx="205.10" cy="987.93" r="5.55" fill="#ff0000"/>
<circle cx="212.68" cy="987.48" r="5.55" fill="#ff0000"/>
<circle cx="220.26" cy="987.01" r="5.55" fill="#ff0000"/>
<circle cx="227.85" cy="986.51" r="5.55" fill="#ff0000"/>
<circle cx="235.43" cy="985.89" r="5.55" fill="#ff0000"/>
<circle cx="243.02" cy="985.10" r="5.55" fill="#ff0000"/>
<circle cx="250.60" cy="984.09" r="5.55" fill="#ff0000"/>
<circle cx="258.19" cy="982.62" r="5.55" fill="#ff0000"/>
<circle cx="265.77" cy="981.05" r="5.55" fill="#ff0000"/>
<circle cx="273.35" cy="979.25" r="5.55" fill="#ff0000"/>
<circle cx="280.94" cy="976.43" r="5.55" fill="#ff0000"/>
<circle cx="288.52" cy="973.17" r="5.55" fill="#ff0000"/>
<circle cx="296.11" cy="969.34" r="5.55" fill="#ff0000"/>
<circle cx="303.69" cy="965.51" r="5.55" fill="#ff0000"/>
<circle cx="311.28" cy="960.11" r="5.55" fill="#ff0000"/>
<circle cx="318.86" cy="954.93" r="5.55" fill="#ff0000"/>
<circle cx="326.44" cy="947.28" r="5.55" fill="#ff0000"/>
<circle cx="334.03" cy="939.06" r="5.55" fill="#ff0000"/>
<circle cx="341.61" cy="929.26" r="5.55" fill="#ff0000"/>
<circle cx="349.20" cy="916.66" r="5.55" fill="#ff0000"/>
<circle cx="356.78" cy="899.77" r="5.55" fill="#ff0000"/>
<circle cx="364.37" cy="875.34" r="5.55" fill="#ff0000"/>
<circle cx="371.95" cy="836.16" r="5.55" fill="#ff0000"/>
<circle cx="379.53" cy="791.36" r="5.55" fill="#ff0000"/>
<circle cx="387.12" cy="766.93" r="5.55" fill="#ff0000"/>
<circle cx="394.70" cy="750.04" r="5.55" fill="#ff0000"/>
<circle cx="402.29" cy="737.44" r="5.55" fill="#ff0000"/>
<circle cx="409.87" cy="727.64" r="5.55" fill="#ff0000"/>
<circle cx="417.46" cy="719.42" r="5.55" fill="#ff0000"/>
<circle cx="425.04" cy="711.77" r="5.55" fill="#ff0000"/>
<circle cx="432.62" cy="706.59" r="5.55" fill="#ff0000"/>
<circle cx="440.21" cy="701.19" r="5.55" fill="#ff0000"/>
<circle cx="447.79" cy="697.36" r="5.55" fill="#ff0000"/>
<circle cx="455.38" cy="693.53" r="5.55" fill="#ff0000"/>
<circle cx="462.96" cy="690.27" r="5.55" fill="#ff0000"/>
<circle cx="470.55" cy="687.45" r="5.55" fill="#ff0000"/>
<circle cx="478.13" cy="685.65" r="5.55" fill="#ff0000"/>
<circle cx="485.71" cy="684.08" r="5.55" fill="#ff0000"/>
<circle cx="493.30" cy="682.84" r="5.55" fill="#ff0000"/>
<circle cx="500.88" cy="681.89" r="5.55" fill="#ff0000"/>
<circle cx="508.47" cy="681.15" r="5.55" fill="#ff0000"/>
<circle cx="516.05" cy="680.59" r="5.55" fill="#ff0000"/>
<circle cx="523.64" cy="680.14" r="5.55" fill="#ff0000"/>
<circle cx="531.22" cy="679.71" r="5.55" fill="#ff0000"/>
<circle cx="538.80" cy="679.29" r="5.55" fill="#ff0000"/>
<circle cx="546.39" cy="678.89" r="5.55" fill="#ff0000"/>
<circle cx="553.97" cy="678.50" r="5.55" fill="#ff0000"/>
<circle cx="561.56" cy="678.12" r="5.55" fill="#ff0000"/>
<circle cx="569.14" cy="677.77" r="5.55" fill="#ff0000"/>
<circle cx="576.73" cy="677.45" r="5.55" fill="#ff0000"/>
<circle cx="584.31" cy="677.15" r="5.55" fill="#ff0000"/>
<circle cx="591.89" cy="676.88" r="5.55" fill="#ff0000"/>
<circle cx="599.48" cy="676.65" r="5.55" fill="#ff0000"/>
<polyline points="144.42,960.67 152.01,960.43 159.59,960.18 167.17,959.92 174.76,959.64 182.34,959.36 189.93,959.07 197.51,958.78 205.10,958.48 212.68,958.17 220.26,957.86 227.85,957.55 235.43,957.18 243.02,956.68 250.60,956.06 258.19,955.35 265.77,954.48 273.35,953.35 280.94,951.89 288.52,949.87 296.11,947.39 303.69,944.24 311.28,940.30 318.86,935.79 326.44,930.16 334.03,923.41 341.61,914.97 349.20,903.71 356.78,890.20 364.37,869.37 371.95,833.35 379.53,797.33 387.12,776.50 394.70,762.99 402.29,751.73 409.87,743.29 417.46,736.54 425.04,730.91 432.62,726.40 440.21,722.46 447.79,719.31 455.38,716.83 462.96,714.81 470.55,713.41 478.13,712.33 485.71,711.52 493.30,710.87 500.88,710.31 508.47,709.86 516.05,709.50 523.64,709.18 531.22,708.86 538.80,708.55 546.39,708.24 553.97,707.94 561.56,707.64 569.14,707.34 576.73,707.06 584.31,706.78 591.89,706.51 599.48,706.25" fill="none" stroke="#0000ff" stroke-width="1"/>
<path d="M144.42 952.59L151.17 964.71L137.67 964.71Z" fill="#0000ff"/>
<path d="M152.01 952.35L158.76 964.47L145.26 964.47Z" fill="#0000ff"/>
<path d="M159.59 952.10L166.34 964.22L152.84 964.22Z" fill="#0000ff"/>
<path d="M167.17 951.83L173.92 963.96L160.42 963.96Z" fill="#0000ff"/>
<path d="M174.76 951.56L181.51 963.69L168.01 963.69Z" fill="#0000ff"/>
<path d="M182.34 951.28L189.09 963.41L175.59 963.41Z" fill="#0000ff"/>
<path d="M189.93 950.99L196.68 963.12L183.18 963.12Z" fill="#0000ff"/>
<path d="M197.51 950.70L204.26 962.82L190.76 962.82Z" fill="#0000ff"/>
<path d="M205.10 950.39L211.85 962.52L198.35 962.52Z" fill="#0000ff"/>
<path d="M212.68 950.09L219.43 962.21L205.93 962.21Z" fill="#0000ff"/>
<path d="M220.26 949.77L227.01 961.90L213.51 961.90Z" fill="#0000ff"/>
<path d="M227.85 949.46L234.60 961.59L221.10 961.59Z" fill="#0000ff"/>
<path d="M235.43 949.10L242.18 961.22L228.68 961.22Z" fill="#0000ff"/>
<path d="M243.02 948.59L249.77 960.72L236.27 960.72Z" fill="#0000ff"/>
<path d="M250.60 947.97L257.35 960.10L243.85 960.10Z" fill="#0000ff"/>
<path d="M258.19 947.27L264.94 959.39L251.44 959.39Z" fill="#0000ff"/>
<path d="M265.77 946.40L272.52 958.52L259.02 958.52Z" fill="#0000ff"/>
<path d="M273.35 945.26L280.10 957.39L266.60 957.39Z" fill="#0000ff"/>
<path d="M280.94 943.81L287.69 955.93L274.19 955.93Z" fill="#0000ff"/>
<path d="M288.52 941.78L295.27 953.91L281.77 953.91Z" fill="#0000ff"/>
<path d="M296.11 939.31L302.86 951.43L289.36 951.43Z" fill="#0000ff"/>
<path d="M303.69 936.15L310.44 948.28L296.94 948.28Z" fill="#0000ff"/>
<path d="M311.28 932.21L318.03 944.34L304.53 944.34Z" fill="#0000ff"/>
<path d="M318.86 927.71L325.61 939.83L312.11 939.83Z" fill="#0000ff"/>
<path d="M326.44 922.08L333.19 934.21L319.69 934.21Z" fill="#0000ff"/>
<path d="M334.03 915.33L340.78 927.45L327.28 927.45Z" fill="#0000ff"/>
<path d="M341.61 906.88L348.36 919.01L334.86 919.01Z" fill="#0000ff"/>
<path d="M349.20 895.63L355.95 907.75L342.45 907.75Z" fill="#0000ff"/>
<path d="M356.78 882.12L363.53 894.24L350.03 894.24Z" fill="#0000ff"/>
<path d="M364.37 861.29L371.12 873.42L357.62 873.42Z" fill="#0000ff"/>
<path d="M371.95 825.27L378.70 837.39L365.20 837.39Z" fill="#0000ff"/>
<path d="M379.53 789.24L386.28 801.37L372.78 801.37Z" fill="#0000ff"/>
<path d="M387.12 768.42L393.87 780.54L380.37 780.54Z" fill="#0000ff"/>
<path d="M394.70 754.91L401.45 767.03L387.95 767.03Z" fill="#0000ff"/>
<path d="M402.29 743.65L409.04 755.77L395.54 755.77Z" fill="#0000ff"/>
<path d="M409.87 735.21L416.62 747.33L403.12 747.33Z" fill="#0000ff"/>
<path d="M417.46 728.45L424.21 740.58L410.71 740.58Z" fill="#0000ff"/>
<path d="M425.04 722.82L431.79 734.95L418.29 734.95Z" fill="#0000ff"/>
<path d="M432.62 718.32L439.37 730.45L425.87 730.45Z" fill="#0000ff"/>
<path d="M440.21 714.38L446.96 726.51L433.46 726.51Z" fill="#0000ff"/>
<path d="M447.79 711.23L454.54 723.35L441.04 723.35Z" fill="#0000ff"/>
<path d="M455.38 708.75L462.13 720.88L448.63 720.88Z" fill="#0000ff"/>
<path d="M462.96 706.73L469.71 718.85L456.21 718.85Z" fill="#0000ff"/>
<path d="M470.55 705.32L477.30 717.45L463.80 717.45Z" fill="#0000ff"/>
<path d="M478.13 704.25L484.88 716.37L471.38 716.37Z" fill="#0000ff"/>
<path d="M485.71 703.44L492.46 715.56L478.96 715.56Z" fill="#0000ff"/>
<path d="M493.30 702.79L500.05 714.91L486.55 714.91Z" fill="#0000ff"/>
<path d="M500.88 702.23L507.63 714.36L494.13 714.36Z" fill="#0000ff"/>
<path d="M508.47 701.77L515.22 713.90L501.72 713.90Z" fill="#0000ff"/>
<path d="M516.05 701.41L522.80 713.54L509.30 713.54Z" fill="#0000ff"/>
<path d="M523.64 701.10L530.39 713.22L516.89 713.22Z" fill="#0000ff"/>
<path d="M531.22 700.78L537.97 712.90L524.47 712.90Z" fill="#0000ff"/>
<path d="M538.80 700.47L545.55 712.59L532.05 712.59Z" fill="#0000ff"/>
<path d="M546.39 700.16L553.14 712.28L539.64 712.28Z" fill="#0000ff"/>
<path d="M553.97 699.85L560.72 711.98L547.22 711.98Z" fill="#0000ff"/>
<path d="M561.56 699.55L568.31 711.68L554.81 711.68Z" fill="#0000ff"/>
<path d="M569.14 699.26L575.89 711.39L562.39 711.39Z" fill="#0000ff"/>
<path d="M576.73 698.98L583.48 711.10L569.98 711.10Z" fill="#0000ff"/>
<path d="M584.31 698.70L591.06 710.82L577.56 710.82Z" fill="#0000ff"/>
<path d="M591.89 698.43L598.64 710.55L585.14 710.55Z" fill="#0000ff"/>
<path d="M599.48 698.17L606.23 710.29L592.73 710.29Z" fill="#0000ff"/>
<polyline points="144.42,955.72 152.01,955.68 159.59,955.56 167.17,955.36 174.76,955.11 182.34,954.80 189.93,954.44 197.51,954.04 205.10,953.61 212.68,953.15 220.26,952.68 227.85,952.08 235.43,951.27 243.02,950.33 250.60,949.30 258.19,948.14 265.77,946.71 273.35,944.97 280.94,942.77 288.52,939.62 296.11,936.02 303.69,931.63 311.28,925.66 318.86,919.24 326.44,911.25 334.03,901.68 341.61,890.54 349.20,878.15 356.78,864.20 364.37,849.00 371.95,833.35 379.53,817.70 387.12,802.50 394.70,788.55 402.29,776.16 409.87,765.02 417.46,755.45 425.04,747.46 432.62,741.04 440.21,735.07 447.79,730.68 455.38,727.08 462.96,723.93 470.55,721.82 478.13,720.21 485.71,718.97 493.30,717.96 500.88,717.04 508.47,716.17 516.05,715.44 523.64,714.92 531.22,714.54 538.80,714.18 546.39,713.84 553.97,713.53 561.56,713.25 569.14,713.01 576.73,712.82 584.31,712.68 591.89,712.59 599.48,712.56" fill="none" stroke="#ff00ff" stroke-width="1"/>
<path d="M144.42 963.80L151.17 951.68L137.67 951.68Z" fill="#ff00ff"/>
<path d="M152.01 963.76L158.76 951.64L145.26 951.64Z" fill="#ff00ff"/>
<path d="M159.59 963.64L166.34 951.51L152.84 951.51Z" fill="#ff00ff"/>
<path d="M167.17 963.45L173.92 951.32L160.42 951.32Z" fill="#ff00ff"/>
<path d="M174.76 963.19L181.51 951.07L168.01 951.07Z" fill="#ff00ff"/>
<path d="M182.34 962.88L189.09 950.76L175.59 950.76Z" fill="#ff00ff"/>
<path d="M189.93 962.52L196.68 950.40L183.18 950.40Z" fill="#ff00ff"/>
<path d="M197.51 962.12L204.26 950.00L190.76 950.00Z" fill="#ff00ff"/>
<path d="M205.10 961.69L211.85 949.57L198.35 949.57Z" fill="#ff00ff"/>
<path d="M212.68 961.24L219.43 949.11L205.93 949.11Z" fill="#ff00ff"/>
<path d="M220.26 960.76L227.01 948.64L213.51 948.64Z" fill="#ff00ff"/>
<path d="M227.85 960.16L234.60 948.04L221.10 948.04Z" fill="#ff00ff"/>
<path d="M235.43 959.36L242.18 947.23L228.68 947.23Z" fill="#ff00ff"/>
<path d="M243.02 958.41L249.77 946.29L236.27 946.29Z" fill="#ff00ff"/>
<path d="M250.60 957.39L257.35 945.26L243.85 945.26Z" fill="#ff00ff"/>
<path d="M258.19 956.22L264.94 944.09L251.44 944.09Z" fill="#ff00ff"/>
<path d="M265.77 954.80L272.52 942.67L259.02 942.67Z" fill="#ff00ff"/>
<path d="M273.35 953.06L280.10 940.93L266.60 940.93Z" fill="#ff00ff"/>
<path d="M280.94 950.86L287.69 938.73L274.19 938.73Z" fill="#ff00ff"/>
<path d="M288.52 947.70L295.27 935.58L281.77 935.58Z" fill="#ff00ff"/>
<path d="M296.11 944.10L302.86 931.98L289.36 931.98Z" fill="#ff00ff"/>
<path d="M303.69 939.71L310.44 927.59L296.94 927.59Z" fill="#ff00ff"/>
<path d="M311.28 933.74L318.03 921.62L304.53 921.62Z" fill="#ff00ff"/>
<path d="M318.86 927.33L325.61 915.20L312.11 915.20Z" fill="#ff00ff"/>
<path d="M326.44 919.34L333.19 907.21L319.69 907.21Z" fill="#ff00ff"/>
<path d="M334.03 909.77L340.78 897.64L327.28 897.64Z" fill="#ff00ff"/>
<path d="M341.61 898.62L348.36 886.50L334.86 886.50Z" fill="#ff00ff"/>
<path d="M349.20 886.24L355.95 874.11L342.45 874.11Z" fill="#ff00ff"/>
<path d="M356.78 872.28L363.53 860.15L350.03 860.15Z" fill="#ff00ff"/>
<path d="M364.37 857.08L371.12 844.96L357.62 844.96Z" fill="#ff00ff"/>
<path d="M371.95 841.43L378.70 829.31L365.20 829.31Z" fill="#ff00ff"/>
<path d="M379.53 825.79L386.28 813.66L372.78 813.66Z" fill="#ff00ff"/>
<path d="M387.12 810.59L393.87 798.46L380.37 798.46Z" fill="#ff00ff"/>
<path d="M394.70 796.63L401.45 784.50L387.95 784.50Z" fill="#ff00ff"/>
<path d="M402.29 784.25L409.04 772.12L395.54 772.12Z" fill="#ff00ff"/>
<path d="M409.87 773.10L416.62 760.98L403.12 760.98Z" fill="#ff00ff"/>
<path d="M417.46 763.53L424.21 751.41L410.71 751.41Z" fill="#ff00ff"/>
<path d="M425.04 755.54L431.79 743.41L418.29 743.41Z" fill="#ff00ff"/>
<path d="M432.62 749.12L439.37 737.00L425.87 737.00Z" fill="#ff00ff"/>
<path d="M440.21 743.16L446.96 731.03L433.46 731.03Z" fill="#ff00ff"/>
<path d="M447.79 738.76L454.54 726.64L441.04 726.64Z" fill="#ff00ff"/>
<path d="M455.38 735.16L462.13 723.04L448.63 723.04Z" fill="#ff00ff"/>
<path d="M462.96 732.01L469.71 719.89L456.21 719.89Z" fill="#ff00ff"/>
<path d="M470.55 729.90L477.30 717.78L463.80 717.78Z" fill="#ff00ff"/>
<path d="M478.13 728.30L484.88 716.17L471.38 716.17Z" fill="#ff00ff"/>
<path d="M485.71 727.05L492.46 714.93L478.96 714.93Z" fill="#ff00ff"/>
<path d="M493.30 726.04L500.05 713.92L486.55 713.92Z" fill="#ff00ff"/>
<path d="M500.88 725.12L507.63 713.00L494.13 713.00Z" fill="#ff00ff"/>
<path d="M508.47 724.26L515.22 712.13L501.72 712.13Z" fill="#ff00ff"/>
<path d="M516.05 723.52L522.80 711.40L509.30 711.40Z" fill="#ff00ff"/>
<path d="M523.64 723.00L530.39 710.88L516.89 710.88Z" fill="#ff00ff"/>
<path d="M531.22 722.62L537.97 710.50L524.47 710.50Z" fill="#ff00ff"/>
<path d="M538.80 722.26L545.55 710.13L532.05 710.13Z" fill="#ff00ff"/>
<path d="M546.39 721.92L553.14 709.80L539.64 709.80Z" fill="#ff00ff"/>
<path d="M553.97 721.61L560.72 709.49L547.22 709.49Z" fill="#ff00ff"/>
<path d="M561.56 721.34L568.31 709.21L554.81 709.21Z" fill="#ff00ff"/>
<path d="M569.14 721.10L575.89 708.97L562.39 708.97Z" fill="#ff00ff"/>
<path d="M576.73 720.91L583.48 708.78L569.98 708.78Z" fill="#ff00ff"/>
<path d="M584.31 720.76L591.06 708.64L577.56 708.64Z" fill="#ff00ff"/>
<path d="M591.89 720.67L598.64 708.55L585.14 708.55Z" fill="#ff00ff"/>
<path d="M599.48 720.64L606.23 708.52L592.73 708.52Z" fill="#ff00ff"/>
<path d="M134.9 632.5 H187.0" stroke="#000" stroke-width="1" stroke-opacity="0.75" fill="none"/>
<rect x="155.95" y="627.75" width="9.70" height="9.70" fill="#000"/>
<text x="0" y="0" transform="translate(192.9 640.70) scale(1 1.07)" font-family='"Liberation Sans", sans-serif' font-size="23">CIP-NC P</text>
<path d="M134.9 661.5 H187.0" stroke="#ff0000" stroke-width="1" stroke-opacity="0.75" fill="none"/>
<circle cx="160.80" cy="661.30" r="5.55" fill="#ff0000"/>
<text x="0" y="0" transform="translate(192.9 669.40) scale(1 1.07)" font-family='"Liberation Sans", sans-serif' font-size="23">CIP-0.5 P</text>
<path d="M134.9 690.5 H187.0" stroke="#0000ff" stroke-width="1" stroke-opacity="0.75" fill="none"/>
<path d="M160.80 681.92L167.55 694.04L154.05 694.04Z" fill="#0000ff"/>
<text x="0" y="0" transform="translate(192.9 698.10) scale(1 1.07)" font-family='"Liberation Sans", sans-serif' font-size="23">CIP-1.0 P</text>
<path d="M134.9 718.5 H187.0" stroke="#ff00ff" stroke-width="1" stroke-opacity="0.75" fill="none"/>
<path d="M160.80 726.58L167.55 714.46L154.05 714.46Z" fill="#ff00ff"/>
<text x="0" y="0" transform="translate(192.9 726.60) scale(1 1.07)" font-family='"Liberation Sans", sans-serif' font-size="23">CIP-1.5 P</text>
<g stroke="#000" stroke-width="1.4" fill="none">
<path d="M417.4 806.6 V1006.4"/>
<path d="M416.7 1006.4 H637.3000000000001"/>
<path d="M413.4 992.60 H417.4"/>
<path d="M415.0 975.70 H417.4"/>
<path d="M413.4 958.80 H417.4"/>
<path d="M415.0 941.90 H417.4"/>
<path d="M413.4 925.00 H417.4"/>
<path d="M415.0 908.10 H417.4"/>
<path d="M413.4 891.20 H417.4"/>
<path d="M415.0 874.30 H417.4"/>
<path d="M413.4 857.40 H417.4"/>
<path d="M415.0 840.50 H417.4"/>
<path d="M413.4 823.60 H417.4"/>
<path d="M415.0 806.70 H417.4"/>
<path d="M417.40 1006.4 V1010.4"/>
<path d="M439.32 1006.4 V1009.0"/>
<path d="M461.24 1006.4 V1010.4"/>
<path d="M483.16 1006.4 V1009.0"/>
<path d="M505.08 1006.4 V1010.4"/>
<path d="M527.00 1006.4 V1009.0"/>
<path d="M548.92 1006.4 V1010.4"/>
<path d="M570.84 1006.4 V1009.0"/>
<path d="M592.76 1006.4 V1010.4"/>
<path d="M614.68 1006.4 V1009.0"/>
<path d="M636.60 1006.4 V1010.4"/>
</g>
<g font-family='"Liberation Sans", sans-serif' fill="#222">
<text x="411.40" y="996.60" font-size="11.2" text-anchor="end" >80</text>
<text x="411.40" y="962.80" font-size="11.2" text-anchor="end" >100</text>
<text x="411.40" y="929.00" font-size="11.2" text-anchor="end" >120</text>
<text x="411.40" y="895.20" font-size="11.2" text-anchor="end" >140</text>
<text x="411.40" y="861.40" font-size="11.2" text-anchor="end" >160</text>
<text x="411.40" y="827.60" font-size="11.2" text-anchor="end" >180</text>
<text x="417.40" y="1021.00" font-size="11.2" text-anchor="middle" >10000</text>
<text x="461.24" y="1021.00" font-size="11.2" text-anchor="middle" >11000</text>
<text x="505.08" y="1021.00" font-size="11.2" text-anchor="middle" >12000</text>
<text x="548.92" y="1021.00" font-size="11.2" text-anchor="middle" >13000</text>
<text x="592.76" y="1021.00" font-size="11.2" text-anchor="middle" >14000</text>
<text x="636.60" y="1021.00" font-size="11.2" text-anchor="middle" >15000</text>
<text x="527.00" y="1040.70" font-size="11.6" text-anchor="middle" >Magnetic Field (G)</text>
<text x="0" y="0" font-size="11.9" text-anchor="middle" transform="translate(383.6 914.8) rotate(-90)">Magnetization (emu/g)</text>
</g>
<clipPath id="cb"><rect x="417.4" y="806.6" width="219.20000000000005" height="199.79999999999995"/></clipPath>
<g clip-path="url(#cb)">
<polyline points="417.40,870.75 439.32,869.99 461.24,869.28 483.16,868.62 505.08,868.01 527.00,867.47 548.92,866.98 570.84,866.56 592.76,866.22 614.68,865.97 636.60,865.85" fill="none" stroke="#000" stroke-width="0.8"/>
<rect x="414.90" y="868.25" width="5.00" height="5.00" fill="#000"/>
<rect x="436.82" y="867.49" width="5.00" height="5.00" fill="#000"/>
<rect x="458.74" y="866.78" width="5.00" height="5.00" fill="#000"/>
<rect x="480.66" y="866.12" width="5.00" height="5.00" fill="#000"/>
<rect x="502.58" y="865.51" width="5.00" height="5.00" fill="#000"/>
<rect x="524.50" y="864.97" width="5.00" height="5.00" fill="#000"/>
<rect x="546.42" y="864.48" width="5.00" height="5.00" fill="#000"/>
<rect x="568.34" y="864.06" width="5.00" height="5.00" fill="#000"/>
<rect x="590.26" y="863.72" width="5.00" height="5.00" fill="#000"/>
<rect x="612.18" y="863.47" width="5.00" height="5.00" fill="#000"/>
<rect x="634.10" y="863.35" width="5.00" height="5.00" fill="#000"/>
<polyline points="417.40,897.79 439.32,896.98 461.24,896.22 483.16,895.51 505.08,894.87 527.00,894.28 548.92,893.76 570.84,893.32 592.76,892.95 614.68,892.68 636.60,892.55" fill="none" stroke="#ff0000" stroke-width="0.8"/>
<circle cx="417.40" cy="897.79" r="2.70" fill="#ff0000"/>
<circle cx="439.32" cy="896.98" r="2.70" fill="#ff0000"/>
<circle cx="461.24" cy="896.22" r="2.70" fill="#ff0000"/>
<circle cx="483.16" cy="895.51" r="2.70" fill="#ff0000"/>
<circle cx="505.08" cy="894.87" r="2.70" fill="#ff0000"/>
<circle cx="527.00" cy="894.28" r="2.70" fill="#ff0000"/>
<circle cx="548.92" cy="893.76" r="2.70" fill="#ff0000"/>
<circle cx="570.84" cy="893.32" r="2.70" fill="#ff0000"/>
<circle cx="592.76" cy="892.95" r="2.70" fill="#ff0000"/>
<circle cx="614.68" cy="892.68" r="2.70" fill="#ff0000"/>
<circle cx="636.60" cy="892.55" r="2.70" fill="#ff0000"/>
<polyline points="417.40,941.56 439.32,940.85 461.24,940.19 483.16,939.58 505.08,939.01 527.00,938.50 548.92,938.05 570.84,937.66 592.76,937.35 614.68,937.11 636.60,937.00" fill="none" stroke="#0000ff" stroke-width="0.8"/>
<path d="M417.40 937.81L420.53 943.44L414.27 943.44Z" fill="#0000ff"/>
<path d="M439.32 937.10L442.45 942.73L436.19 942.73Z" fill="#0000ff"/>
<path d="M461.24 936.44L464.37 942.07L458.11 942.07Z" fill="#0000ff"/>
<path d="M483.16 935.83L486.29 941.45L480.03 941.45Z" fill="#0000ff"/>
<path d="M505.08 935.26L508.21 940.89L501.95 940.89Z" fill="#0000ff"/>
<path d="M527.00 934.75L530.13 940.38L523.87 940.38Z" fill="#0000ff"/>
<path d="M548.92 934.30L552.05 939.93L545.79 939.93Z" fill="#0000ff"/>
<path d="M570.84 933.91L573.97 939.54L567.71 939.54Z" fill="#0000ff"/>
<path d="M592.76 933.60L595.89 939.22L589.63 939.22Z" fill="#0000ff"/>
<path d="M614.68 933.36L617.81 938.99L611.55 938.99Z" fill="#0000ff"/>
<path d="M636.60 933.25L639.73 938.87L633.47 938.87Z" fill="#0000ff"/>
<polyline points="417.40,949.67 439.32,949.18 461.24,948.71 483.16,948.28 505.08,947.88 527.00,947.52 548.92,947.20 570.84,946.93 592.76,946.71 614.68,946.54 636.60,946.46" fill="none" stroke="#ff00ff" stroke-width="0.8"/>
<path d="M417.40 953.42L420.53 947.80L414.27 947.80Z" fill="#ff00ff"/>
<path d="M439.32 952.93L442.45 947.30L436.19 947.30Z" fill="#ff00ff"/>
<path d="M461.24 952.46L464.37 946.83L458.11 946.83Z" fill="#ff00ff"/>
<path d="M483.16 952.03L486.29 946.40L480.03 946.40Z" fill="#ff00ff"/>
<path d="M505.08 951.63L508.21 946.01L501.95 946.01Z" fill="#ff00ff"/>
<path d="M527.00 951.27L530.13 945.65L523.87 945.65Z" fill="#ff00ff"/>
<path d="M548.92 950.95L552.05 945.33L545.79 945.33Z" fill="#ff00ff"/>
<path d="M570.84 950.68L573.97 945.06L567.71 945.06Z" fill="#ff00ff"/>
<path d="M592.76 950.46L595.89 944.83L589.63 944.83Z" fill="#ff00ff"/>
<path d="M614.68 950.29L617.81 944.67L611.55 944.67Z" fill="#ff00ff"/>
<path d="M636.60 950.21L639.73 944.59L633.47 944.59Z" fill="#ff00ff"/>
</g>
<path d="M429.1 811.4 H455.4" stroke="#000" stroke-width="0.8" stroke-opacity="0.75" fill="none"/>
<rect x="439.80" y="808.90" width="5.00" height="5.00" fill="#000"/>
<text x="458.4" y="815.50" font-family='"Liberation Sans", sans-serif' font-size="11.8" fill="#222">CIP-NC P</text>
<path d="M429.1 826.0 H455.4" stroke="#ff0000" stroke-width="0.8" stroke-opacity="0.75" fill="none"/>
<circle cx="442.30" cy="826.00" r="2.70" fill="#ff0000"/>
<text x="458.4" y="830.10" font-family='"Liberation Sans", sans-serif' font-size="11.8" fill="#222">CIP-0.5 P</text>
<path d="M429.1 840.2 H455.4" stroke="#0000ff" stroke-width="0.8" stroke-opacity="0.75" fill="none"/>
<path d="M442.30 836.45L445.43 842.08L439.17 842.08Z" fill="#0000ff"/>
<text x="458.4" y="844.30" font-family='"Liberation Sans", sans-serif' font-size="11.8" fill="#222">CIP-1.0 P</text>
<path d="M429.1 854.7 H455.4" stroke="#ff00ff" stroke-width="0.8" stroke-opacity="0.75" fill="none"/>
<path d="M442.30 858.45L445.43 852.82L439.17 852.82Z" fill="#ff00ff"/>
<text x="458.4" y="858.80" font-family='"Liberation Sans", sans-serif' font-size="11.8" fill="#222">CIP-1.5 P</text>
<ellipse cx="547.9" cy="99.0" rx="81.1" ry="74.9" fill="none" stroke="#ff0000" stroke-width="1.7" stroke-dasharray="6.5 4.6" stroke-dashoffset="-4.0"/>
<path d="M553.0 173.9 V218.1" stroke="#ff0000" stroke-width="2" stroke-dasharray="8.3 7.7" fill="none"/>
<path d="M549.15 218.1 L556.85 218.1 L553.0 230.8 Z" fill="#ff0000"/>
<ellipse cx="542.7" cy="690.0" rx="75.7" ry="70.5" fill="none" stroke="#ff0000" stroke-width="1.7" stroke-dasharray="6.5 4.6" stroke-dashoffset="-9.2"/>
<path d="M547.2 760.4 V802.8" stroke="#ff0000" stroke-width="2" stroke-dasharray="8 7.3" fill="none"/>
<path d="M543.5 802.8 L550.9000000000001 802.8 L547.2 815.7 Z" fill="#ff0000"/>
</svg></body></html>
